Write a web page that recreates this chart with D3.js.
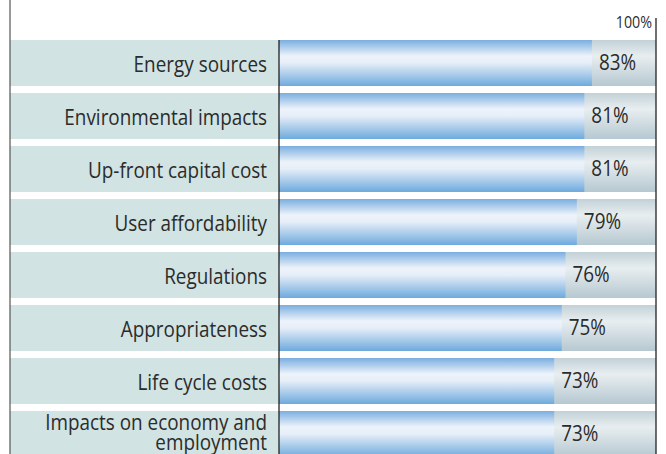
<!DOCTYPE html>
<html>
<head>
<meta charset="utf-8">
<script src="https://cdn.jsdelivr.net/npm/d3@7"></script>
<style>
  body { margin: 0; background: #fff; }
  text { font-family: "Open Sans", "Noto Sans", sans-serif; fill: #2b2b2b; }
</style>
</head>
<body>
<div id="chart"></div>
<script>
// chart values
const categories = ["Energy sources", "Environmental impacts", "Up-front capital cost", "User affordability",
  "Regulations", "Appropriateness", "Life cycle costs", "Impacts on economy and|employment"];
const values = [83, 81, 81, 79, 76, 75, 73, 73];
const maxLabel = "100%";

const width = 666, height = 454;
const leftEdge = 10, axisX = 279, fullX = 656;
const topY = 40, rowStep = 53, rowH = 46;
const squeeze = 0.9; // the original face is narrower than Open Sans

let svg = d3.select("#chart")
    .append("svg")
    .attr("width", width)
    .attr("height", height);

let defs = svg.append("defs");

let blue = defs.append("linearGradient").attr("id", "blueGrad")
    .attr("x1", 0).attr("y1", 0).attr("x2", 0).attr("y2", 1);
blue.append("stop").attr("offset", "0%").attr("stop-color", "#7aaee0");
blue.append("stop").attr("offset", "35%").attr("stop-color", "#eef3fa");
blue.append("stop").attr("offset", "50%").attr("stop-color", "#e6eef8");
blue.append("stop").attr("offset", "100%").attr("stop-color", "#6eaadd");

let grey = defs.append("linearGradient").attr("id", "greyGrad")
    .attr("x1", 0).attr("y1", 0).attr("x2", 0).attr("y2", 1);
grey.append("stop").attr("offset", "0%").attr("stop-color", "#c2d1d7");
grey.append("stop").attr("offset", "35%").attr("stop-color", "#e8eef0");
grey.append("stop").attr("offset", "100%").attr("stop-color", "#b6c8d1");

let x = d3.scaleLinear().domain([0, 100]).range([axisX, fullX]);

// step of 53 with 46px bands
let y = d3.scaleBand()
    .domain(categories)
    .range([topY, topY + rowStep * categories.length - (rowStep - rowH)])
    .paddingInner(1 - rowH / rowStep)
    .paddingOuter(0);

let rows = svg.selectAll("g.row")
    .data(categories)
    .enter().append("g")
    .attr("class", "row")
    .attr("transform", d => `translate(0,${y(d)})`);

// label band
rows.append("rect")
    .attr("x", leftEdge)
    .attr("width", axisX - leftEdge)
    .attr("height", y.bandwidth())
    .attr("fill", "#d1e3e2");

// remainder up to 100%
rows.append("rect")
    .attr("x", axisX)
    .attr("width", x(100) - axisX)
    .attr("height", y.bandwidth())
    .attr("fill", "url(#greyGrad)");

// value bar
rows.append("rect")
    .attr("x", axisX)
    .attr("width", (d, i) => x(values[i]) - axisX)
    .attr("height", y.bandwidth())
    .attr("fill", "url(#blueGrad)");

// category labels
rows.each(function(d) {
    let parts = d.split("|");
    let start = y.bandwidth() / 2 + 9 - (parts.length - 1) * 13;
    let t = d3.select(this).append("text")
        .attr("transform", `translate(${axisX - 12},0) scale(${squeeze},1)`)
        .attr("text-anchor", "end")
        .style("font-size", "21px");
    parts.forEach((p, k) => {
        t.append("tspan").attr("x", 0).attr("y", start + k * 20).text(p);
    });
});

// value labels
rows.append("text")
    .attr("transform", (d, i) => `translate(${x(values[i]) + 7},${y.bandwidth() / 2 + 7}) scale(${squeeze},1)`)
    .style("font-size", "21px")
    .text((d, i) => values[i] + "%");

// lines
svg.append("line").attr("x1", leftEdge).attr("x2", leftEdge).attr("y1", 0).attr("y2", height)
    .attr("stroke", "#555").attr("stroke-width", 1.2);
svg.append("line").attr("x1", axisX).attr("x2", axisX).attr("y1", topY).attr("y2", height)
    .attr("stroke", "#222").attr("stroke-width", 1.3);
svg.append("line").attr("x1", fullX).attr("x2", fullX).attr("y1", 18).attr("y2", height)
    .attr("stroke", "#222").attr("stroke-width", 1.3);

svg.append("text")
    .attr("transform", `translate(${fullX - 4},28) scale(0.92,1)`)
    .attr("text-anchor", "end")
    .style("font-size", "15.5px")
    .text(maxLabel);
</script>
</body>
</html>
